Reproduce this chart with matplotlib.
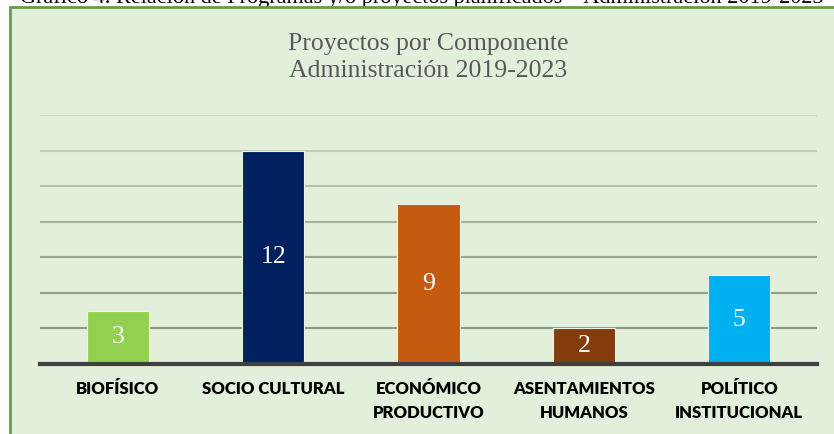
import numpy as np
import matplotlib.pyplot as plt
from matplotlib.patches import Rectangle

# Datos del gráfico
componentes = ['BIOFÍSICO', 'SOCIO CULTURAL', 'ECONÓMICO\nPRODUCTIVO',
               'ASENTAMIENTOS\nHUMANOS', 'POLÍTICO\nINSTITUCIONAL']
proyectos = [3, 12, 9, 2, 5]
colores = ['#92D050', '#002060', '#C55A11', '#843C0C', '#00B0F0']
titulo = 'Proyectos por Componente\nAdministración 2019-2023'
encabezado = 'Gráfico 4. Relación de Programas y/o proyectos planificados – Administración 2019-2023'

W, H = 834, 434
fig = plt.figure(figsize=(W/100, H/100), dpi=100)
fig.patch.set_facecolor('white')

# Marco verde del área del gráfico
fig.patches.append(Rectangle((10/W, -0.05), 1.0, 1 - 7/H + 0.05, transform=fig.transFigure,
                             facecolor='#E2EFDA', edgecolor='#6A9A45', linewidth=2, zorder=0))

# Texto cortado en la parte superior (en el original solo se ve la mitad inferior)
fig.text(20/W, 1 - 3/H, encabezado, family='Liberation Serif', fontsize=16,
         color='black', va='baseline', ha='left', zorder=-1)

ax = fig.add_axes([40/W, 1 - 364/H, (817-40)/W, (364-115)/H])
ax.set_facecolor('none')
ax.set_zorder(2)

x = np.arange(len(componentes))
barras = ax.bar(x, proyectos, width=0.4, color=colores, edgecolor='#EAF2E4', linewidth=0.8, zorder=3)

for xi, v in zip(x, proyectos):
    ax.text(xi, v/2, str(v), ha='center', va='center', color='white',
            family='Liberation Serif', fontsize=18.5, zorder=4)

ax.set_xlim(-0.5, len(componentes) - 0.5)
ax.set_ylim(0, 14)
ax.set_yticks(np.arange(0, 15, 2))
ax.yaxis.grid(True, linewidth=1.5, zorder=1)
# lineas de fondo mas oscuras hacia abajo
grises = ['#8E9A86', '#8E9A86', '#939F8B', '#9BA693', '#A6B09E', '#B5BFAE', '#C4CDBD', '#CCD5C5']
for gl, c in zip(ax.get_ygridlines(), grises):
    gl.set_color(c)
ax.tick_params(axis='y', left=False, labelleft=False)
ax.tick_params(axis='x', bottom=False, pad=9)
ax.set_xticks(x)
ax.set_xticklabels(componentes, family='Lato', fontweight='heavy', fontsize=12,
                   color='black', linespacing=1.6)

for s in ['left', 'right', 'top']:
    ax.spines[s].set_visible(False)
ax.spines['bottom'].set_color('#404040')
ax.spines['bottom'].set_linewidth(3)
ax.spines['bottom'].set_zorder(5)

lineas = titulo.split('\n')
fig.text(428/W, 1 - 44/H, lineas[0], family='Liberation Serif', fontsize=18.5,
         color='#595959', ha='center', va='center', zorder=3)
fig.text(428/W, 1 - 71/H, lineas[1], family='Liberation Serif', fontsize=18.5,
         color='#595959', ha='center', va='center', zorder=3)

plt.savefig('out.png', dpi=100)
plt.close()
